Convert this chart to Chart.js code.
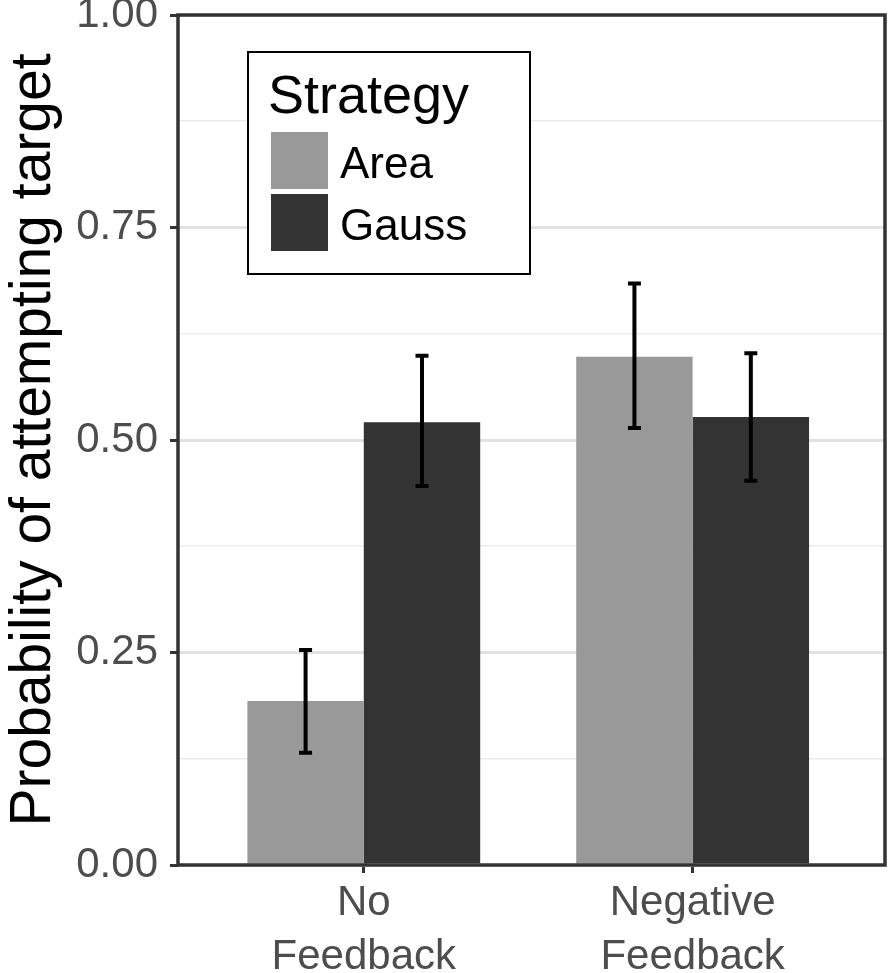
<!DOCTYPE html>
<html>
<head>
<meta charset="utf-8">
<script src="https://cdn.jsdelivr.net/npm/chart.js@4.4.1/dist/chart.umd.min.js"></script>
<style>
  html, body { margin: 0; padding: 0; background: #fff; }
  #wrap { width: 888px; height: 973px; }
</style>
</head>
<body>
<div id="wrap"><canvas id="chart" width="888" height="973"></canvas></div>
<script>
// data
const categories = [["No", "Feedback"], ["Negative", "Feedback"]];
const categoryPos = [1, 2];
const strategies = ["Area", "Gauss"];
const areaValues = [0.193, 0.598];
const gaussValues = [0.521, 0.527];
const areaLow = [0.132, 0.514];
const areaHigh = [0.253, 0.684];
const gaussLow = [0.446, 0.452];
const gaussHigh = [0.599, 0.602];
const yTicks = [0, 0.25, 0.5, 0.75, 1];

const FONT = "'Liberation Sans', Arial, Helvetica, sans-serif";
const FRAME = "#333333";

function toPoints(values) {
  return values.map((v, i) => ({ x: categoryPos[i], y: v }));
}

function isMajor(v) {
  return yTicks.some((t) => Math.abs(t - v) < 1e-6);
}

// error bars drawn from the low/high arrays
const errorBarPlugin = {
  id: "errorBars",
  afterDatasetsDraw(chart) {
    const ctx = chart.ctx;
    const y = chart.scales.y;
    const ranges = [
      [areaLow, areaHigh],
      [gaussLow, gaussHigh],
    ];
    ctx.save();
    ctx.strokeStyle = "#000";
    ctx.lineWidth = 4;
    chart.data.datasets.forEach((ds, di) => {
      const meta = chart.getDatasetMeta(di);
      meta.data.forEach((bar, i) => {
        const lo = y.getPixelForValue(ranges[di][0][i]);
        const hi = y.getPixelForValue(ranges[di][1][i]);
        ctx.beginPath();
        ctx.moveTo(bar.x, lo);
        ctx.lineTo(bar.x, hi);
        ctx.moveTo(bar.x - 6.5, lo);
        ctx.lineTo(bar.x + 6.5, lo);
        ctx.moveTo(bar.x - 6.5, hi);
        ctx.lineTo(bar.x + 6.5, hi);
        ctx.stroke();
      });
    });
    ctx.restore();
  },
};

// panel frame + legend box inside the panel
const framePlugin = {
  id: "frame",
  afterDraw(chart) {
    const ctx = chart.ctx;
    const a = chart.chartArea;
    ctx.save();
    ctx.strokeStyle = FRAME;
    ctx.lineWidth = 3.5;
    ctx.strokeRect(a.left, a.top, a.right - a.left, a.bottom - a.top);

    // legend
    const lx = a.left + 70;
    const ly = a.top + 37;
    ctx.fillStyle = "#fff";
    ctx.fillRect(lx, ly, 282, 222);
    ctx.strokeStyle = "#000";
    ctx.lineWidth = 2;
    ctx.strokeRect(lx, ly, 282, 222);

    ctx.fillStyle = "#000";
    ctx.textBaseline = "alphabetic";
    ctx.textAlign = "left";
    ctx.font = "54px " + FONT;
    ctx.fillText("Strategy", lx + 20, ly + 61);

    ctx.font = "44px " + FONT;
    chart.data.datasets.forEach((ds, i) => {
      const sy = ly + 80 + i * 62;
      ctx.fillStyle = ds.backgroundColor;
      ctx.fillRect(lx + 23, sy, 57, 57);
      ctx.fillStyle = "#000";
      ctx.fillText(ds.label, lx + 92, sy + 46);
    });
    ctx.restore();
  },
};

new Chart(document.getElementById("chart"), {
  type: "bar",
  data: {
    datasets: [
      {
        label: strategies[0],
        data: toPoints(areaValues),
        backgroundColor: "#999999",
      },
      {
        label: strategies[1],
        data: toPoints(gaussValues),
        backgroundColor: "#333333",
      },
    ],
  },
  options: {
    responsive: false,
    animation: false,
    categoryPercentage: 0.708,
    barPercentage: 1,
    layout: { padding: { top: 15, right: 3, left: 0, bottom: 0 } },
    plugins: {
      legend: { display: false },
      tooltip: { enabled: false },
    },
    scales: {
      x: {
        type: "linear",
        min: 0.435,
        max: 2.585,
        offset: false,
        afterBuildTicks(scale) {
          scale.ticks = categoryPos.map((v) => ({ value: v }));
        },
        afterFit(scale) {
          scale.height = 108;
          scale.paddingLeft = 0;
          scale.paddingRight = 0;
        },
        ticks: {
          autoSkip: false,
          maxRotation: 0,
          color: "#4d4d4d",
          padding: 3,
          font: { family: FONT, size: 42, lineHeight: 1.3 },
          callback: (v) => {
            const i = categoryPos.indexOf(v);
            return i >= 0 ? categories[i] : "";
          },
        },
        grid: {
          offset: false,
          drawOnChartArea: false,
          drawTicks: true,
          tickLength: 8,
          tickWidth: 3,
          tickColor: FRAME,
        },
        border: { display: false },
      },
      y: {
        min: 0,
        max: 1,
        afterFit(scale) {
          scale.width = 178;
          scale.paddingTop = 0;
          scale.paddingBottom = 0;
        },
        ticks: {
          stepSize: 0.125,
          autoSkip: false,
          color: "#4d4d4d",
          padding: 12,
          font: { family: FONT, size: 42 },
          callback: (v) => (isMajor(v) ? v.toFixed(2) : ""),
        },
        grid: {
          color: (c) => (isMajor(c.tick.value) ? "#e2e2e2" : "#ebebeb"),
          lineWidth: (c) => (isMajor(c.tick.value) ? 3 : 1.6),
          drawTicks: true,
          tickLength: 8,
          tickWidth: 3,
          tickColor: (c) => (isMajor(c.tick.value) ? FRAME : "rgba(0,0,0,0)"),
        },
        border: { display: false },
        title: {
          display: true,
          text: "Probability of attempting target",
          color: "#000",
          padding: { top: 0, bottom: 4 },
          font: { family: FONT, size: 57 },
        },
      },
    },
  },
  plugins: [errorBarPlugin, framePlugin],
});
</script>
</body>
</html>
